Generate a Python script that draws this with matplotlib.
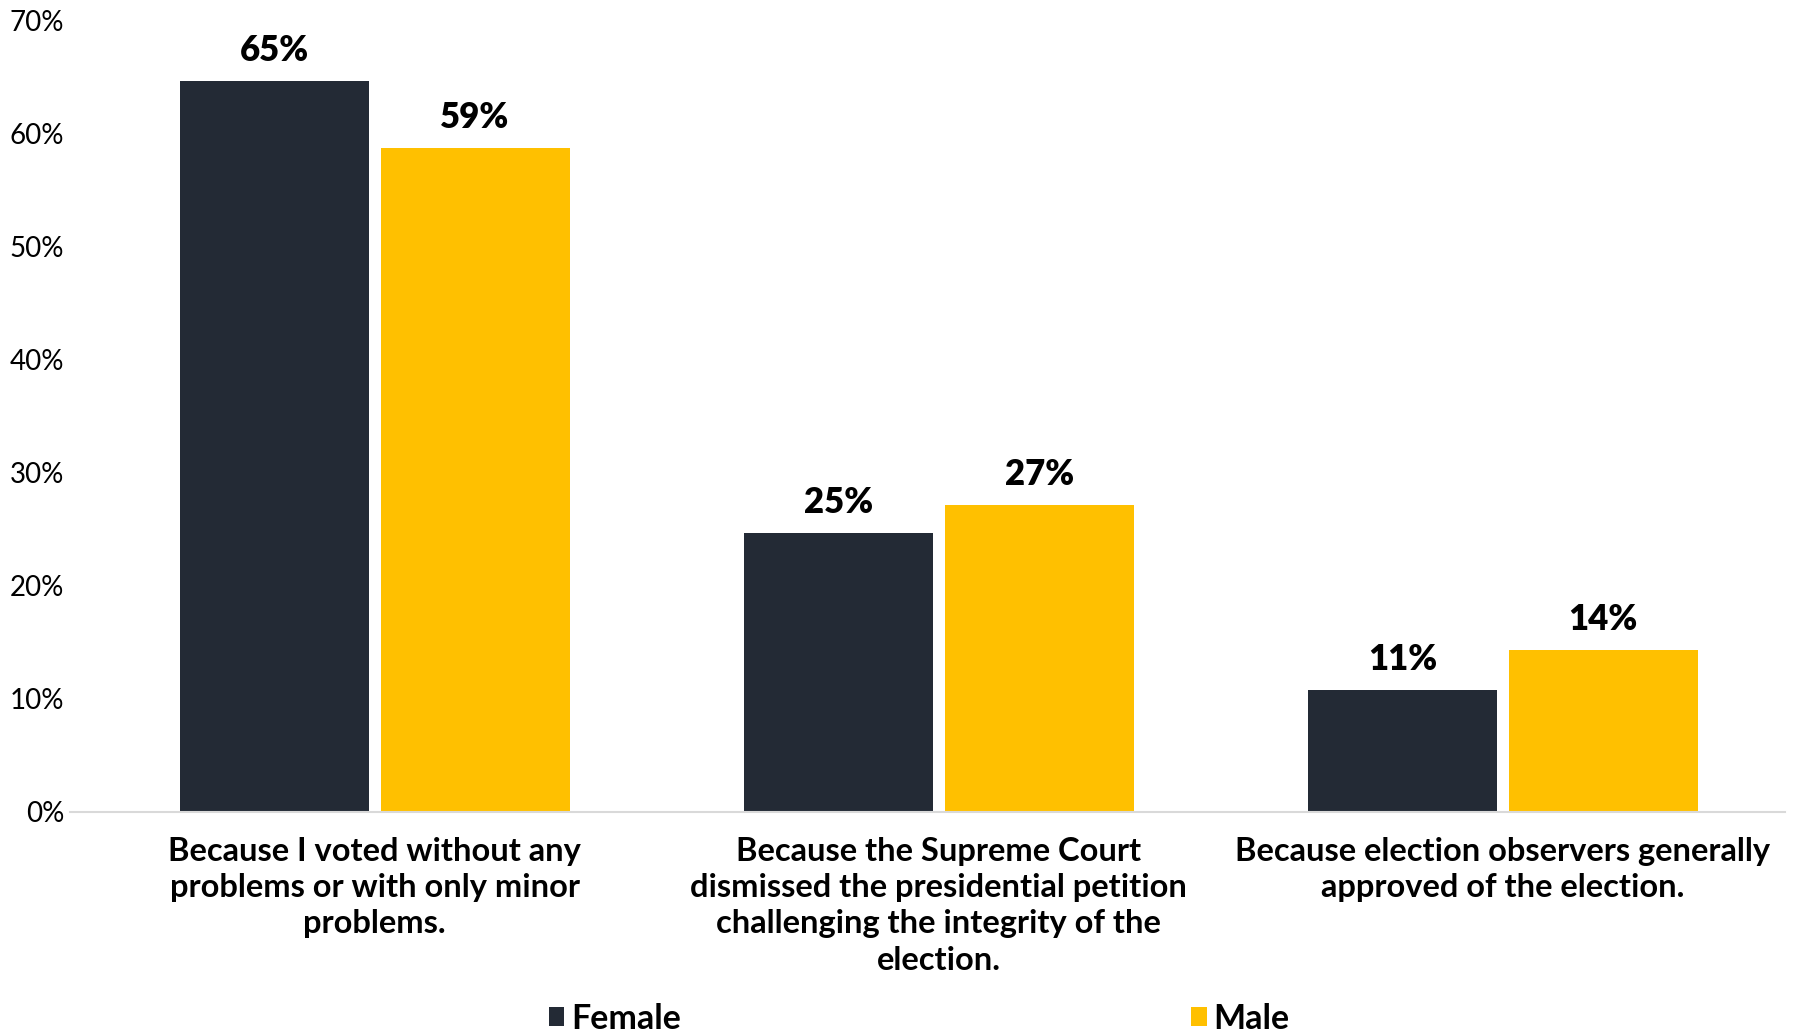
import matplotlib
matplotlib.use("Agg")
import matplotlib.pyplot as plt
import numpy as np

plt.rcParams['font.family'] = ['Lato', 'DejaVu Sans']

categories = [
    "Because I voted without any\nproblems or with only minor\nproblems.",
    "Because the Supreme Court\ndismissed the presidential petition\nchallenging the integrity of the\nelection.",
    "Because election observers generally\napproved of the election.",
]
female = [64.6, 24.7, 10.8]
male = [58.7, 27.1, 14.3]
series = ["Female", "Male"]
colors = ["#232a35", "#ffc000"]
yticks = [0, 10, 20, 30, 40, 50, 60, 70]

fig = plt.figure(figsize=(17.99, 10.32), dpi=100)
ax = fig.add_axes([0.0389, 0.2132, 0.9533, 0.7674])

x = np.arange(len(categories))
w = 0.335
off = 0.178
for vals, name, col, sgn in zip([female, male], series, colors, [-1, 1]):
    bars = ax.bar(x + sgn * off, vals, width=w, color=col, label=name)
    for b, v in zip(bars, vals):
        ax.annotate(f"{v:.0f}%", (b.get_x() + b.get_width() / 2, v),
                    xytext=(0, 10), textcoords="offset points",
                    ha="center", va="bottom", fontsize=25, fontweight="heavy")

ax.set_xlim(-0.54, 2.5)
ax.set_ylim(0, 70)
ax.set_yticks(yticks)
ax.set_yticklabels([f"{t}%" for t in yticks], fontsize=20)
ax.set_xticks(x)
ax.set_xticklabels(categories, fontsize=23.5, fontweight="bold", linespacing=1.3)
ax.tick_params(axis="y", length=0, pad=4)
ax.tick_params(axis="x", length=0, pad=18)
for s in ["top", "right", "left"]:
    ax.spines[s].set_visible(False)
ax.spines["bottom"].set_color("#d9d9d9")
ax.spines["bottom"].set_linewidth(1.5)

fig.legend(loc="center", bbox_to_anchor=(0.511, 0.013), ncol=2, frameon=False,
           prop={"size": 24.5, "weight": "bold"}, handlelength=0.45, handleheight=0.45,
           handletextpad=0.2, columnspacing=15.0)

fig.savefig("out.png", dpi=100)
